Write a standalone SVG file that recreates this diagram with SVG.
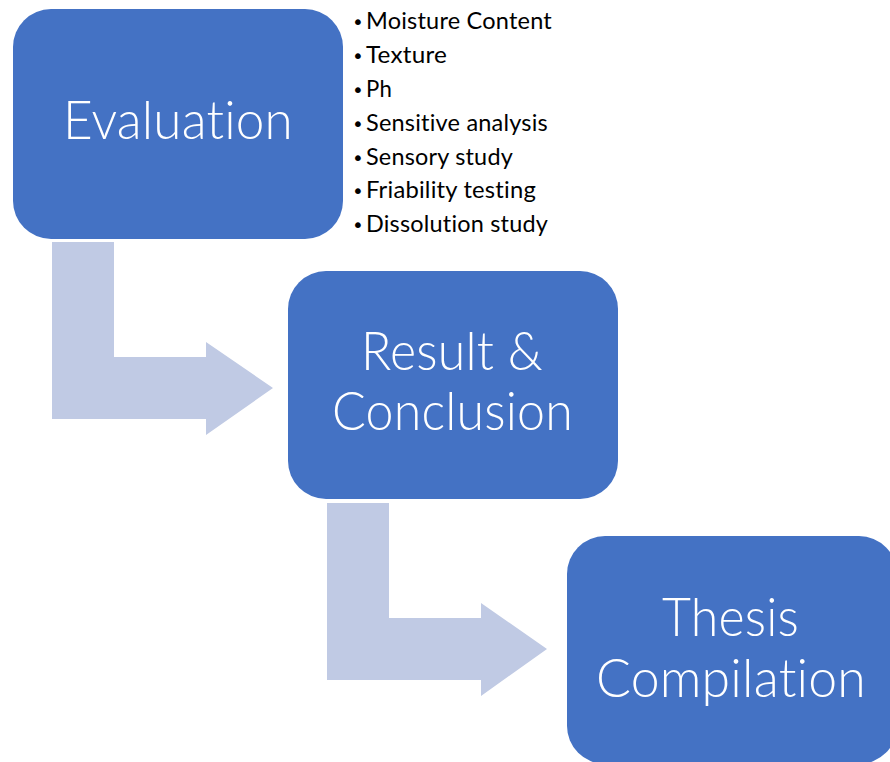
<svg xmlns="http://www.w3.org/2000/svg" width="890" height="762" viewBox="0 0 890 762">
<style>
.box{fill:#4472C4;}
.arrow{fill:#C0CAE4;}
.lbl{font-family:Lato,"Open Sans","Liberation Sans",sans-serif;font-weight:300;font-size:54px;fill:#FFFFFF;text-anchor:middle;font-variant-ligatures:none;font-feature-settings:"liga" 0,"clig" 0;letter-spacing:0.2px;}
.item{font-family:Lato,"Open Sans","Liberation Sans",sans-serif;font-size:23px;fill:#000000;font-variant-ligatures:none;font-feature-settings:"liga" 0,"clig" 0;letter-spacing:0.2px;}
.bul{font-family:"DejaVu Sans","Liberation Sans",sans-serif;font-size:20px;fill:#000000;}
</style>
<rect width="890" height="762" fill="#FFFFFF"/>
<g id="connectors">
<path class="arrow" d="M52,242 H114 V357 H206 V342 L273,388 L206,435 V419 H52 Z"/>
<path class="arrow" d="M327,503 H389 V618 H481 V603 L547,649 L481,696 V680 H327 Z"/>
</g>
<g id="evaluation">
<rect class="box" x="13" y="9" width="330" height="230" rx="38" ry="38"/>
<text class="lbl" x="178" y="139" textLength="230" lengthAdjust="spacingAndGlyphs">Evaluation</text>
</g>
<g id="evaluation-details">
<text class="bul" x="352" y="29">•</text>
<text class="item" x="366" y="29" textLength="186" lengthAdjust="spacingAndGlyphs">Moisture Content</text>
<text class="bul" x="352" y="63">•</text>
<text class="item" x="366" y="63" textLength="81" lengthAdjust="spacingAndGlyphs">Texture</text>
<text class="bul" x="352" y="97">•</text>
<text class="item" x="366" y="97" textLength="26" lengthAdjust="spacingAndGlyphs">Ph</text>
<text class="bul" x="352" y="131">•</text>
<text class="item" x="366" y="131" textLength="182" lengthAdjust="spacingAndGlyphs">Sensitive analysis</text>
<text class="bul" x="352" y="165">•</text>
<text class="item" x="366" y="165" textLength="147" lengthAdjust="spacingAndGlyphs">Sensory study</text>
<text class="bul" x="352" y="198">•</text>
<text class="item" x="366" y="198" textLength="170" lengthAdjust="spacingAndGlyphs">Friability testing</text>
<text class="bul" x="352" y="232">•</text>
<text class="item" x="366" y="232" textLength="182" lengthAdjust="spacingAndGlyphs">Dissolution study</text>
</g>
<g id="result-conclusion">
<rect class="box" x="288" y="271" width="330" height="228" rx="38" ry="38"/>
<text class="lbl" x="452" y="370" textLength="182" lengthAdjust="spacingAndGlyphs">Result &amp;</text>
<text class="lbl" x="452.5" y="430" textLength="241" lengthAdjust="spacingAndGlyphs">Conclusion</text>
</g>
<g id="thesis-compilation">
<rect class="box" x="567" y="536" width="330" height="228" rx="38" ry="38"/>
<text class="lbl" x="730.5" y="636" textLength="137" lengthAdjust="spacingAndGlyphs">Thesis</text>
<text class="lbl" x="731" y="697" textLength="270" lengthAdjust="spacingAndGlyphs">Compilation</text>
</g>
</svg>
